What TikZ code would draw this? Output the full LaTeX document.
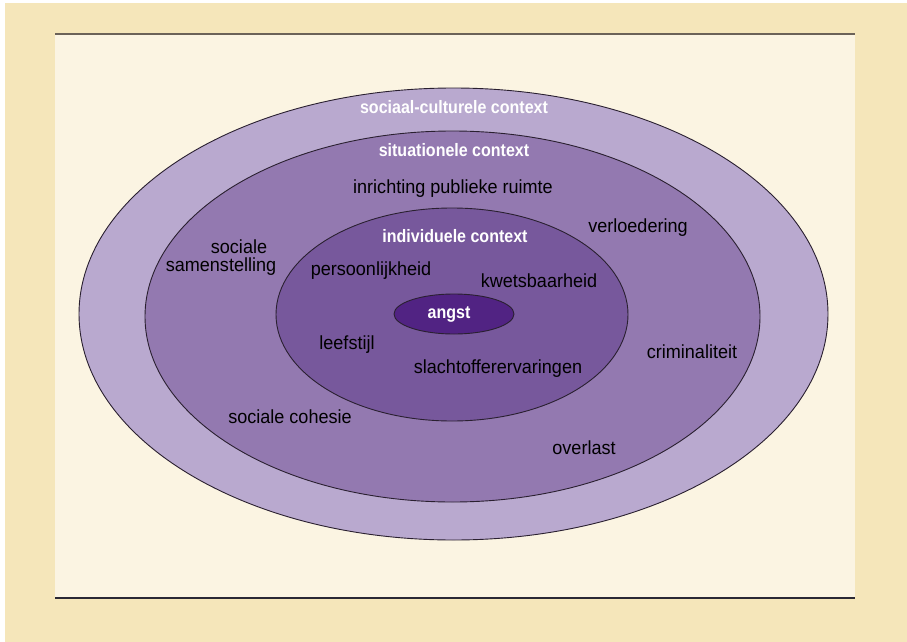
\documentclass[tikz,border=0pt]{standalone}
\usepackage{fontspec}
\setmainfont{Liberation Sans}[FakeStretch=0.95]
\newfontfamily\headfont{Liberation Sans}[FakeStretch=0.89]
\begin{document}
\begin{tikzpicture}[x=1pt,y=-1pt]
\definecolor{tan}{HTML}{F5E6BA}
\definecolor{cream}{HTML}{FBF4E2}
\definecolor{ringA}{HTML}{B9A9CF}
\definecolor{ringB}{HTML}{9379B0}
\definecolor{ringC}{HTML}{77589C}
\definecolor{core}{HTML}{512383}
\definecolor{edge}{HTML}{2A2030}
\tikzset{
  ring/.style={draw=edge, line width=0.9pt},
  lbl/.style={text=black, font=\fontsize{19}{21}\selectfont, align=center, inner sep=0pt},
  head/.style={text=white, font=\headfont\bfseries\fontsize{18}{20}\selectfont, inner sep=0pt},
}
\useasboundingbox (0,0) rectangle (907,642);
\fill[white] (0,0) rectangle (907,642);
\fill[tan] (5,3) rectangle (907,642);
\fill[cream] (55,34) rectangle (855,598);
\coordinate (tl) at (55,34); \coordinate (tr) at (855,34);
\coordinate (bl) at (55,598); \coordinate (br) at (855,598);
\draw[line width=1.5pt, color={rgb,255:red,107;green,98;blue,88}] (tl) -- (tr);
\draw[line width=1.5pt, color={rgb,255:red,42;green,40;blue,52}] (bl) -- (br);
\filldraw[ring, fill=ringA] (453.5,314) ellipse [x radius=374.5, y radius=226];
\filldraw[ring, fill=ringB] (452.5,316.5) ellipse [x radius=307.5, y radius=185.5];
\filldraw[ring, fill=ringC] (452,314.5) ellipse [x radius=176, y radius=106.5];
\filldraw[ring, fill=core] (454,314) ellipse [x radius=60, y radius=20];
\node[head] (sc) at (454,107) {sociaal-culturele context};
\node[head] (st) at (454,150) {situationele context};
\node[head] (ic) at (455,236) {individuele context};
\node[head] (an) at (449,315) {angst};
\node[lbl] (ipr) at (453,189) {inrichting publieke ruimte};
\node[lbl] (vl) at (638,228) {verloedering};
\node[lbl] (ss1) at (239,247) {sociale};
\node[lbl] (ss2) at (221,267) {samenstelling};
\node[lbl] (pk) at (371,271) {persoonlijkheid};
\node[lbl] (kw) at (539,281) {kwetsbaarheid};
\node[lbl] (ls) at (347,345) {leefstijl};
\node[lbl] (sv) at (498,369) {slachtofferervaringen};
\node[lbl] (cr) at (692,352) {criminaliteit};
\node[lbl] (sch) at (290,417) {sociale cohesie};
\node[lbl] (ol) at (584,448) {overlast};
\end{tikzpicture}
\end{document}
